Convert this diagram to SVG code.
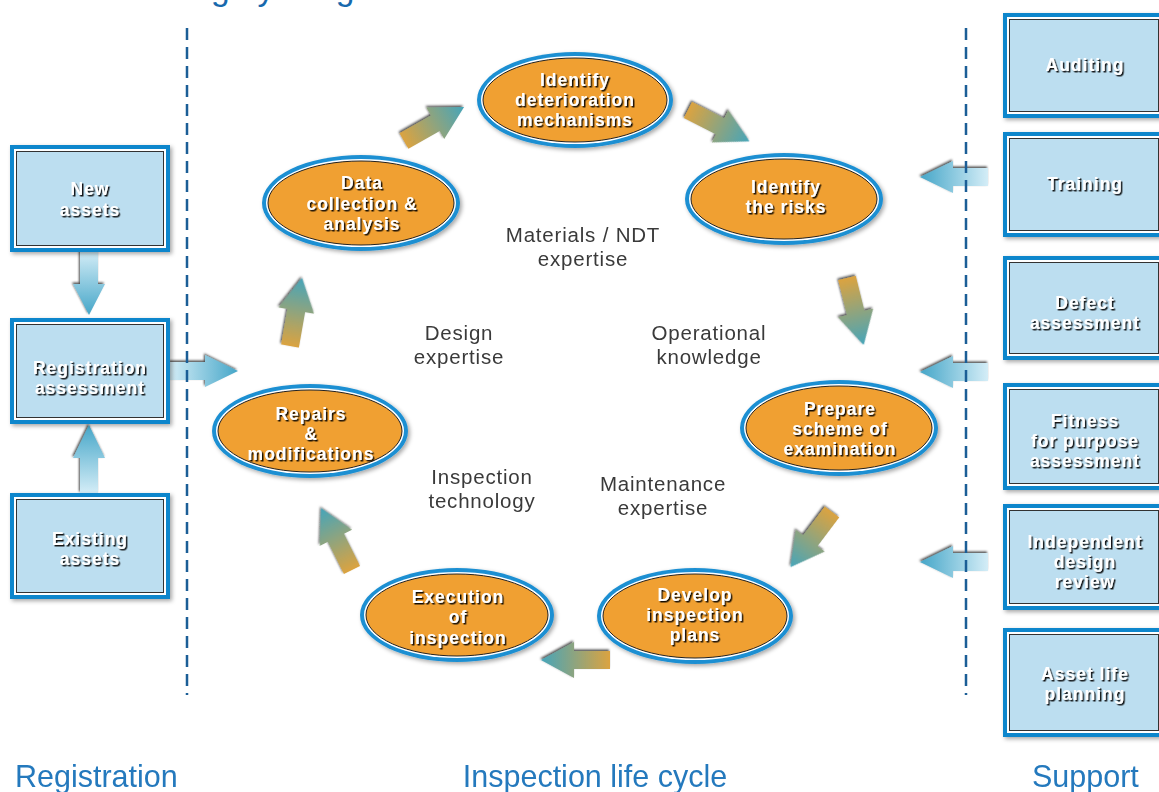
<svg xmlns="http://www.w3.org/2000/svg" xmlns:xlink="http://www.w3.org/1999/xlink" width="1159" height="792" viewBox="0 0 1159 792">
<style>
.box-o{fill:#0b86cc}
.box-w{fill:#ffffff}
.box-i{fill:#bcdef0;stroke:#333;stroke-width:1}
.el-o{fill:#1b8fd2}
.el-w{fill:#ffffff}
.el-i{fill:#f0a032;stroke:#222;stroke-width:1}
.nt{font-family:"Liberation Sans",Arial,sans-serif;font-weight:bold;font-size:17.5px;letter-spacing:1px;fill:#ffffff;text-anchor:middle;filter:url(#ts)}
.ct{font-family:"Liberation Sans",Arial,sans-serif;font-size:20.5px;letter-spacing:0.8px;fill:#3a3a3a;text-anchor:middle}
.lab{font-family:"Liberation Sans",Arial,sans-serif;font-size:30.5px;fill:#2479bd}
.dash{stroke:#1b5e96;stroke-width:2.5;stroke-dasharray:12 7;fill:none}
</style>
<defs>
<filter id="ts" x="-10%" y="-30%" width="130%" height="170%">
<feDropShadow dx="1.5" dy="1.5" stdDeviation="0.4" flood-color="#000" flood-opacity="0.9"/>
</filter>
<filter id="sh" x="-10%" y="-10%" width="125%" height="130%">
<feDropShadow dx="2" dy="2" stdDeviation="2" flood-color="#000" flood-opacity="0.35"/>
</filter>
<filter id="ash" x="-20%" y="-40%" width="140%" height="180%">
<feDropShadow dx="-1" dy="-1.5" stdDeviation="0.8" flood-color="#000" flood-opacity="0.7"/>
</filter>
<linearGradient id="gOr" x1="0" y1="0" x2="1" y2="0">
<stop offset="0" stop-color="#dba340"/>
<stop offset="1" stop-color="#45a5ba"/>
</linearGradient>
<linearGradient id="gBl" x1="0" y1="0" x2="1" y2="0">
<stop offset="0" stop-color="#d4edf7"/>
<stop offset="1" stop-color="#45a6c8"/>
</linearGradient>
<path id="ga" d="M0,-9 H36 V-18 L69,0 L36,18 V9 H0 Z" fill="url(#gOr)"/>
<path id="ba" d="M0,-9 H35 V-16 L68,0 L35,16 V9 H0 Z" fill="url(#gBl)"/>
</defs>
<rect width="1159" height="792" fill="#ffffff"/>
<text class="lab" x="62" y="0" style="font-size:33.5px;fill:#1769ad">Asset Integrity Programme</text>

<g id="connectors">
<g filter="url(#ash)">
<use xlink:href="#ba" transform="translate(89,251) rotate(90) scale(0.94,1)"/>
<use xlink:href="#ba" transform="translate(89,493) rotate(-90)"/>
<use xlink:href="#ba" transform="translate(170,371)"/>
<use xlink:href="#ba" transform="translate(988,177) rotate(180)"/>
<use xlink:href="#ba" transform="translate(988,372) rotate(180)"/>
<use xlink:href="#ba" transform="translate(988,562) rotate(180)"/>
</g>
<g filter="url(#ash)">
<use xlink:href="#ga" transform="translate(404,141) rotate(-29.5)"/>
<use xlink:href="#ga" transform="translate(688,110) rotate(27)"/>
<use xlink:href="#ga" transform="translate(847,278) rotate(76)"/>
<use xlink:href="#ga" transform="translate(832,512) rotate(127)"/>
<use xlink:href="#ga" transform="translate(610,660) rotate(180)"/>
<use xlink:href="#ga" transform="translate(352,570) rotate(-116.6)"/>
<use xlink:href="#ga" transform="translate(290,346) rotate(-80)"/>
</g>
</g>

<line class="dash" x1="187" y1="28" x2="187" y2="695"/>
<line class="dash" x1="966" y1="28" x2="966" y2="695"/>

<g id="new-assets" filter="url(#sh)">
<rect class="box-o" x="10" y="145" width="160" height="107"/>
<rect class="box-w" x="14" y="149" width="152" height="99"/>
<rect class="box-i" x="16.5" y="151.5" width="147" height="94"/>
<text class="nt" x="90" y="195">New</text>
<text class="nt" x="90" y="216">assets</text>
</g>
<g id="registration-assessment" filter="url(#sh)">
<rect class="box-o" x="10" y="318" width="160" height="106"/>
<rect class="box-w" x="14" y="322" width="152" height="98"/>
<rect class="box-i" x="16.5" y="324.5" width="147" height="93"/>
<text class="nt" x="90" y="374">Registration</text>
<text class="nt" x="90" y="394">assessment</text>
</g>
<g id="existing-assets" filter="url(#sh)">
<rect class="box-o" x="10" y="493" width="160" height="106"/>
<rect class="box-w" x="14" y="497" width="152" height="98"/>
<rect class="box-i" x="16.5" y="499.5" width="147" height="93"/>
<text class="nt" x="90" y="545">Existing</text>
<text class="nt" x="90" y="565">assets</text>
</g>

<g id="auditing" filter="url(#sh)">
<rect class="box-o" x="1003" y="13" width="162" height="105"/>
<rect class="box-w" x="1007" y="17" width="154" height="97"/>
<rect class="box-i" x="1009.5" y="19.5" width="149" height="92"/>
<text class="nt" x="1085" y="71">Auditing</text>
</g>
<g id="training" filter="url(#sh)">
<rect class="box-o" x="1003" y="132" width="162" height="105"/>
<rect class="box-w" x="1007" y="136" width="154" height="97"/>
<rect class="box-i" x="1009.5" y="138.5" width="149" height="92"/>
<text class="nt" x="1085" y="190">Training</text>
</g>
<g id="defect-assessment" filter="url(#sh)">
<rect class="box-o" x="1003" y="256" width="162" height="104"/>
<rect class="box-w" x="1007" y="260" width="154" height="96"/>
<rect class="box-i" x="1009.5" y="262.5" width="149" height="91"/>
<text class="nt" x="1085" y="309">Defect</text>
<text class="nt" x="1085" y="329">assessment</text>
</g>
<g id="fitness-for-purpose" filter="url(#sh)">
<rect class="box-o" x="1003" y="383" width="162" height="107"/>
<rect class="box-w" x="1007" y="387" width="154" height="99"/>
<rect class="box-i" x="1009.5" y="389.5" width="149" height="94"/>
<text class="nt" x="1085" y="427">Fitness</text>
<text class="nt" x="1085" y="447">for purpose</text>
<text class="nt" x="1085" y="467">assessment</text>
</g>
<g id="independent-design-review" filter="url(#sh)">
<rect class="box-o" x="1003" y="504" width="162" height="106"/>
<rect class="box-w" x="1007" y="508" width="154" height="98"/>
<rect class="box-i" x="1009.5" y="510.5" width="149" height="93"/>
<text class="nt" x="1085" y="548">Independent</text>
<text class="nt" x="1085" y="568">design</text>
<text class="nt" x="1085" y="588">review</text>
</g>
<g id="asset-life-planning" filter="url(#sh)">
<rect class="box-o" x="1003" y="628" width="162" height="109"/>
<rect class="box-w" x="1007" y="632" width="154" height="101"/>
<rect class="box-i" x="1009.5" y="634.5" width="149" height="96"/>
<text class="nt" x="1085" y="680">Asset life</text>
<text class="nt" x="1085" y="700">planning</text>
</g>

<g id="identify-deterioration" filter="url(#sh)">
<ellipse class="el-o" cx="575" cy="100" rx="98" ry="48"/>
<ellipse class="el-w" cx="575" cy="100" rx="94" ry="44"/>
<ellipse class="el-i" cx="575" cy="100" rx="92" ry="42"/>
<text class="nt" x="575" y="86">Identify</text>
<text class="nt" x="575" y="106">deterioration</text>
<text class="nt" x="575" y="126">mechanisms</text>
</g>
<g id="identify-risks" filter="url(#sh)">
<ellipse class="el-o" cx="784" cy="199" rx="99" ry="46"/>
<ellipse class="el-w" cx="784" cy="199" rx="95" ry="42"/>
<ellipse class="el-i" cx="784" cy="199" rx="93" ry="40"/>
<text class="nt" x="786" y="193">Identify</text>
<text class="nt" x="786" y="213">the risks</text>
</g>
<g id="data-collection" filter="url(#sh)">
<ellipse class="el-o" cx="361" cy="203" rx="99" ry="48"/>
<ellipse class="el-w" cx="361" cy="203" rx="95" ry="44"/>
<ellipse class="el-i" cx="361" cy="203" rx="93" ry="42"/>
<text class="nt" x="362" y="189">Data</text>
<text class="nt" x="362" y="210">collection &amp;</text>
<text class="nt" x="362" y="230">analysis</text>
</g>
<g id="prepare-scheme" filter="url(#sh)">
<ellipse class="el-o" cx="839" cy="428" rx="99" ry="48"/>
<ellipse class="el-w" cx="839" cy="428" rx="95" ry="44"/>
<ellipse class="el-i" cx="839" cy="428" rx="93" ry="42"/>
<text class="nt" x="840" y="415">Prepare</text>
<text class="nt" x="840" y="435">scheme of</text>
<text class="nt" x="840" y="455">examination</text>
</g>
<g id="repairs-modifications" filter="url(#sh)">
<ellipse class="el-o" cx="310" cy="431" rx="98" ry="47"/>
<ellipse class="el-w" cx="310" cy="431" rx="94" ry="43"/>
<ellipse class="el-i" cx="310" cy="431" rx="92" ry="41"/>
<text class="nt" x="311" y="420">Repairs</text>
<text class="nt" x="311" y="440">&amp;</text>
<text class="nt" x="311" y="460">modifications</text>
</g>
<g id="develop-plans" filter="url(#sh)">
<ellipse class="el-o" cx="695" cy="616" rx="98" ry="48"/>
<ellipse class="el-w" cx="695" cy="616" rx="94" ry="44"/>
<ellipse class="el-i" cx="695" cy="616" rx="92" ry="42"/>
<text class="nt" x="695" y="601">Develop</text>
<text class="nt" x="695" y="621">inspection</text>
<text class="nt" x="695" y="641">plans</text>
</g>
<g id="execution-inspection" filter="url(#sh)">
<ellipse class="el-o" cx="457" cy="615" rx="97" ry="47"/>
<ellipse class="el-w" cx="457" cy="615" rx="93" ry="43"/>
<ellipse class="el-i" cx="457" cy="615" rx="91" ry="41"/>
<text class="nt" x="458" y="603">Execution</text>
<text class="nt" x="458" y="623">of</text>
<text class="nt" x="458" y="644">inspection</text>
</g>

<g id="expertise-labels">
<text class="ct" x="583" y="242">Materials / NDT</text>
<text class="ct" x="583" y="265.5">expertise</text>
<text class="ct" x="459" y="340">Design</text>
<text class="ct" x="459" y="363.5">expertise</text>
<text class="ct" x="709" y="340">Operational</text>
<text class="ct" x="709" y="363.5">knowledge</text>
<text class="ct" x="482" y="484">Inspection</text>
<text class="ct" x="482" y="507.5">technology</text>
<text class="ct" x="663" y="491">Maintenance</text>
<text class="ct" x="663" y="514.5">expertise</text>
</g>

<g id="section-labels">
<text class="lab" x="15" y="787">Registration</text>
<text class="lab" x="595" y="787" text-anchor="middle">Inspection life cycle</text>
<text class="lab" x="1032" y="787">Support</text>
</g>
</svg>
